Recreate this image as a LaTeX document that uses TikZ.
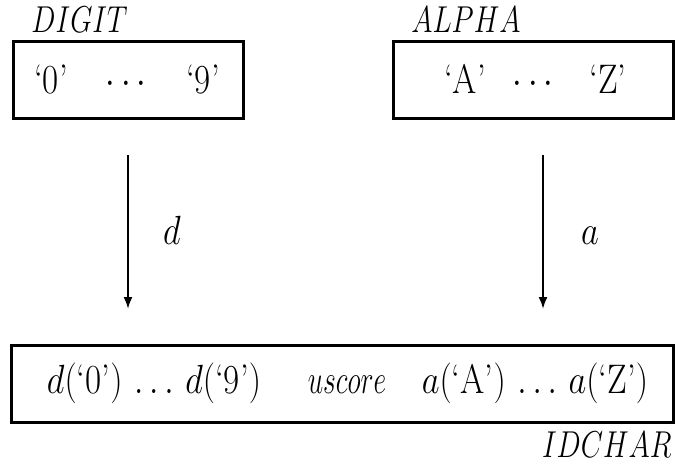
\documentclass[tikz,border=0pt]{standalone}
\usetikzlibrary{arrows.meta}
\newcommand\vs[1]{\scalebox{1}[1.18]{#1}}
\newcommand\vl[1]{\scalebox{1}[1.3]{#1}}
\begin{document}
\begin{tikzpicture}[x=0.5pt,y=-0.5pt,
  box/.style={draw,line width=1.5pt,inner sep=0pt},
  lbl/.style={font=\fontsize{17.5}{21}\selectfont,inner sep=0pt,anchor=base},
  tagtext/.style={font=\fontsize{14.5}{17}\selectfont,inner sep=0pt,anchor=base west},
  conn/.style={line width=1pt,-{Latex[length=6pt,width=4.5pt]}}]
\useasboundingbox (0,0) rectangle (688,465);
% boxes
\node[box,minimum width=115pt,minimum height=38pt] (digit) at (128,80) {};
\node[box,minimum width=140pt,minimum height=38pt] (alpha) at (533,80) {};
\node[box,minimum width=331pt,minimum height=38.5pt] (idchar) at (342,383.5) {};
% labels
\node[tagtext] (digitlbl) at (31,33) {\vl{$DIGIT$}};
\node[tagtext] (alphalbl) at (411,33) {\vl{$ALPHA$}};
\node[tagtext,anchor=base east] (idcharlbl) at (672,457) {\vl{$IDCHAR$}};
% digit contents
\node[lbl] (z0) at (51,93) {\vs{`0'}};
\node[lbl] (zd) at (126,93) {\vs{$\cdots$}};
\node[lbl] (z9) at (203,93) {\vs{`9'}};
% alpha contents
\node[lbl] (aA) at (465,93) {\vs{`A'}};
\node[lbl] (ad) at (533,93) {\vs{$\cdots$}};
\node[lbl] (aZ) at (608,93) {\vs{`Z'}};
% idchar contents
\node[lbl] (dpart) at (154,393) {\vs{$d(\mbox{`0'})\,\ldots\, d(\mbox{`9'})$}};
\node[lbl] (upart) at (347,393) {\scalebox{0.8}[1.18]{$uscore$}};
\node[lbl] (apart) at (535,393) {\vs{$a(\mbox{`A'})\,\ldots\, a(\mbox{`Z'})$}};
% arrows
\coordinate (d1) at (128,155);
\coordinate (d2) at (128,309);
\coordinate (a1) at (543,155);
\coordinate (a2) at (543,309);
\draw[conn] (d1) -- (d2);
\draw[conn] (a1) -- (a2);
\node[lbl] (dlbl) at (172,244) {\vs{$d$}};
\node[lbl] (albl) at (590,244) {\vs{$a$}};
\end{tikzpicture}
\end{document}
